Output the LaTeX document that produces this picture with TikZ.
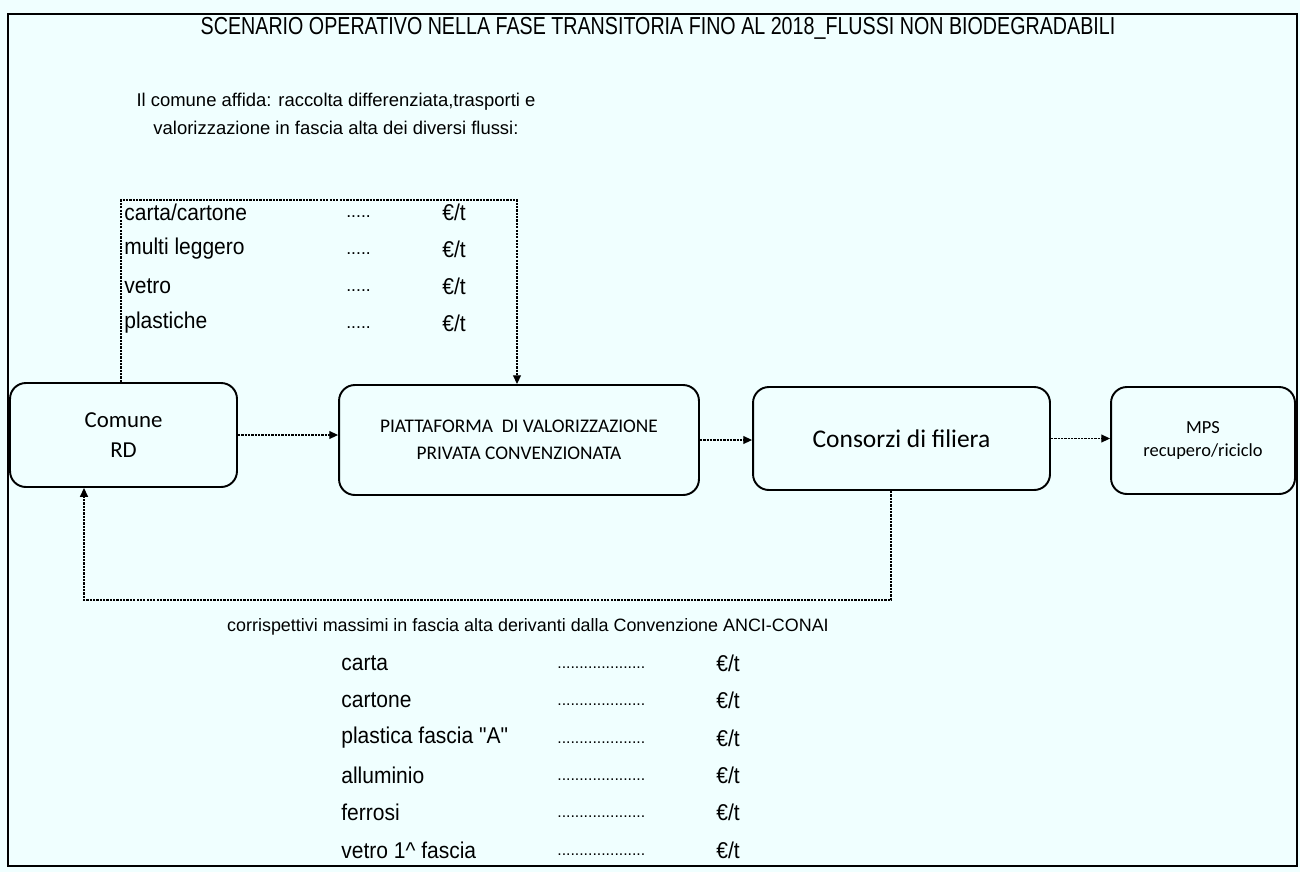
\documentclass[tikz,border=0pt]{standalone}
\usepackage{graphicx}
\usepackage{fontspec}
\setmainfont{Liberation Sans}
\newfontfamily\boxfont{Carlito}
\newfontfamily\quotefont{Liberation Sans}[Ligatures=TeXOff]
\usetikzlibrary{arrows.meta}
\definecolor{bgcol}{HTML}{F0FFFF}
\newcommand\narrowtxt[1]{\scalebox{0.92}[1]{#1}}
\tikzset{
  boxnode/.style={draw, line width=1.1pt, rounded corners=9pt, inner sep=0pt, align=center, font=\boxfont},
  flow/.style={line width=0.7pt, dash pattern=on 1.3pt off 0.6pt, -{Triangle[length=5pt,width=4.5pt]}},
  listtxt/.style={inner sep=0pt, anchor=west, font=\fontsize{13}{15}\selectfont},
  dotstxt/.style={inner sep=0pt, anchor=west, font=\fontsize{10}{12}\selectfont},
  bdotstxt/.style={inner sep=0pt, anchor=west, font=\fontsize{9}{10}\selectfont},
  midtxt/.style={inner sep=0pt, font=\fontsize{10.5}{12}\selectfont}
}
\begin{document}
\begin{tikzpicture}[x=0.02cm,y=-0.02cm]
\fill[bgcol] (0,0) rectangle (1300,872);
\useasboundingbox (0,0) rectangle (1300,872);
\draw[line width=1pt] (8,14) rectangle (1297,866);

% title and texts
\node[inner sep=0pt] (title) at (658,28) {\fontsize{14}{16}\selectfont\scalebox{0.8}[1]{SCENARIO OPERATIVO NELLA FASE TRANSITORIA FINO AL 2018\_FLUSSI NON BIODEGRADABILI}};
\node[midtxt] (intro1) at (336,102) {Il comune affida: raccolta differenziata,trasporti e};
\node[midtxt] (intro2) at (336,128) {valorizzazione in fascia alta dei diversi flussi:};

% top list
\node[listtxt] (t1) at (124,212) {\narrowtxt{carta/cartone}};
\node[listtxt] (t2) at (124,249) {\narrowtxt{multi leggero}};
\node[listtxt] (t3) at (124,286) {\narrowtxt{vetro}};
\node[listtxt] (t4) at (124,323) {\narrowtxt{plastiche}};
\node[dotstxt] (d1) at (346,217) {.....};
\node[dotstxt] (d2) at (346,254) {.....};
\node[dotstxt] (d3) at (346,291) {.....};
\node[dotstxt] (d4) at (346,328) {.....};
\node[listtxt] (e1) at (442,212) {\narrowtxt{€/t}};
\node[listtxt] (e2) at (442,249) {\narrowtxt{€/t}};
\node[listtxt] (e3) at (442,286) {\narrowtxt{€/t}};
\node[listtxt] (e4) at (442,323) {\narrowtxt{€/t}};

% boxes
\node[boxnode, minimum width=4.54cm, minimum height=2.08cm, font=\boxfont\fontsize{13}{17}\selectfont] (comune) at (123.5,435) {Comune\\RD};
\node[boxnode, minimum width=7.2cm, minimum height=2.2cm, font=\boxfont\fontsize{11}{15.5}\selectfont] (piatt) at (519,440) {PIATTAFORMA\ \ DI VALORIZZAZIONE\\PRIVATA CONVENZIONATA};
\node[boxnode, minimum width=5.94cm, minimum height=2.06cm, font=\boxfont\fontsize{14.5}{17}\selectfont] (cons) at (901.5,438.5) {Consorzi di filiera};
\node[boxnode, minimum width=3.68cm, minimum height=2.14cm, font=\boxfont\fontsize{10.5}{13.5}\selectfont] (mps) at (1203,440.5) {MPS\\recupero/riciclo};

% connectors
\coordinate (tl) at (121,200);
\coordinate (tr) at (517,200);
\draw[flow] (tl |- comune.north) -- (tl) -- (tr) -- (tr |- piatt.north);
\draw[flow] (comune.east) -- (comune.east -| piatt.west);
\draw[flow] (piatt.east) -- (piatt.east -| cons.west);
\draw[flow] (cons.east) -- (cons.east -| mps.west);
\coordinate (br) at (891,600);
\coordinate (bl) at (84,600);
\draw[flow] (br |- cons.south) -- (br) -- (bl) -- (bl |- comune.south);

% bottom texts
\node[midtxt, font=\fontsize{10.2}{12}\selectfont] (corr) at (528,627) {corrispettivi massimi in fascia alta derivanti dalla Convenzione ANCI-CONAI};
\node[listtxt] (b1) at (341,663) {\narrowtxt{carta}};
\node[listtxt] (b2) at (341,700) {\narrowtxt{cartone}};
\node[listtxt] (b3) at (341,738) {\narrowtxt{plastica fascia {\quotefont"}A{\quotefont"}}};
\node[listtxt] (b4) at (341,775) {\narrowtxt{alluminio}};
\node[listtxt] (b5) at (341,812) {\narrowtxt{ferrosi}};
\node[listtxt] (b6) at (341,850) {\narrowtxt{vetro 1\textasciicircum{} fascia}};
\node[bdotstxt] (bd1) at (557,668) {....................};
\node[bdotstxt] (bd2) at (557,705) {....................};
\node[bdotstxt] (bd3) at (557,743) {....................};
\node[bdotstxt] (bd4) at (557,780) {....................};
\node[bdotstxt] (bd5) at (557,817) {....................};
\node[bdotstxt] (bd6) at (557,855) {....................};
\node[listtxt] (be1) at (716,663) {\narrowtxt{€/t}};
\node[listtxt] (be2) at (716,700) {\narrowtxt{€/t}};
\node[listtxt] (be3) at (716,738) {\narrowtxt{€/t}};
\node[listtxt] (be4) at (716,775) {\narrowtxt{€/t}};
\node[listtxt] (be5) at (716,812) {\narrowtxt{€/t}};
\node[listtxt] (be6) at (716,850) {\narrowtxt{€/t}};
\end{tikzpicture}
\end{document}
